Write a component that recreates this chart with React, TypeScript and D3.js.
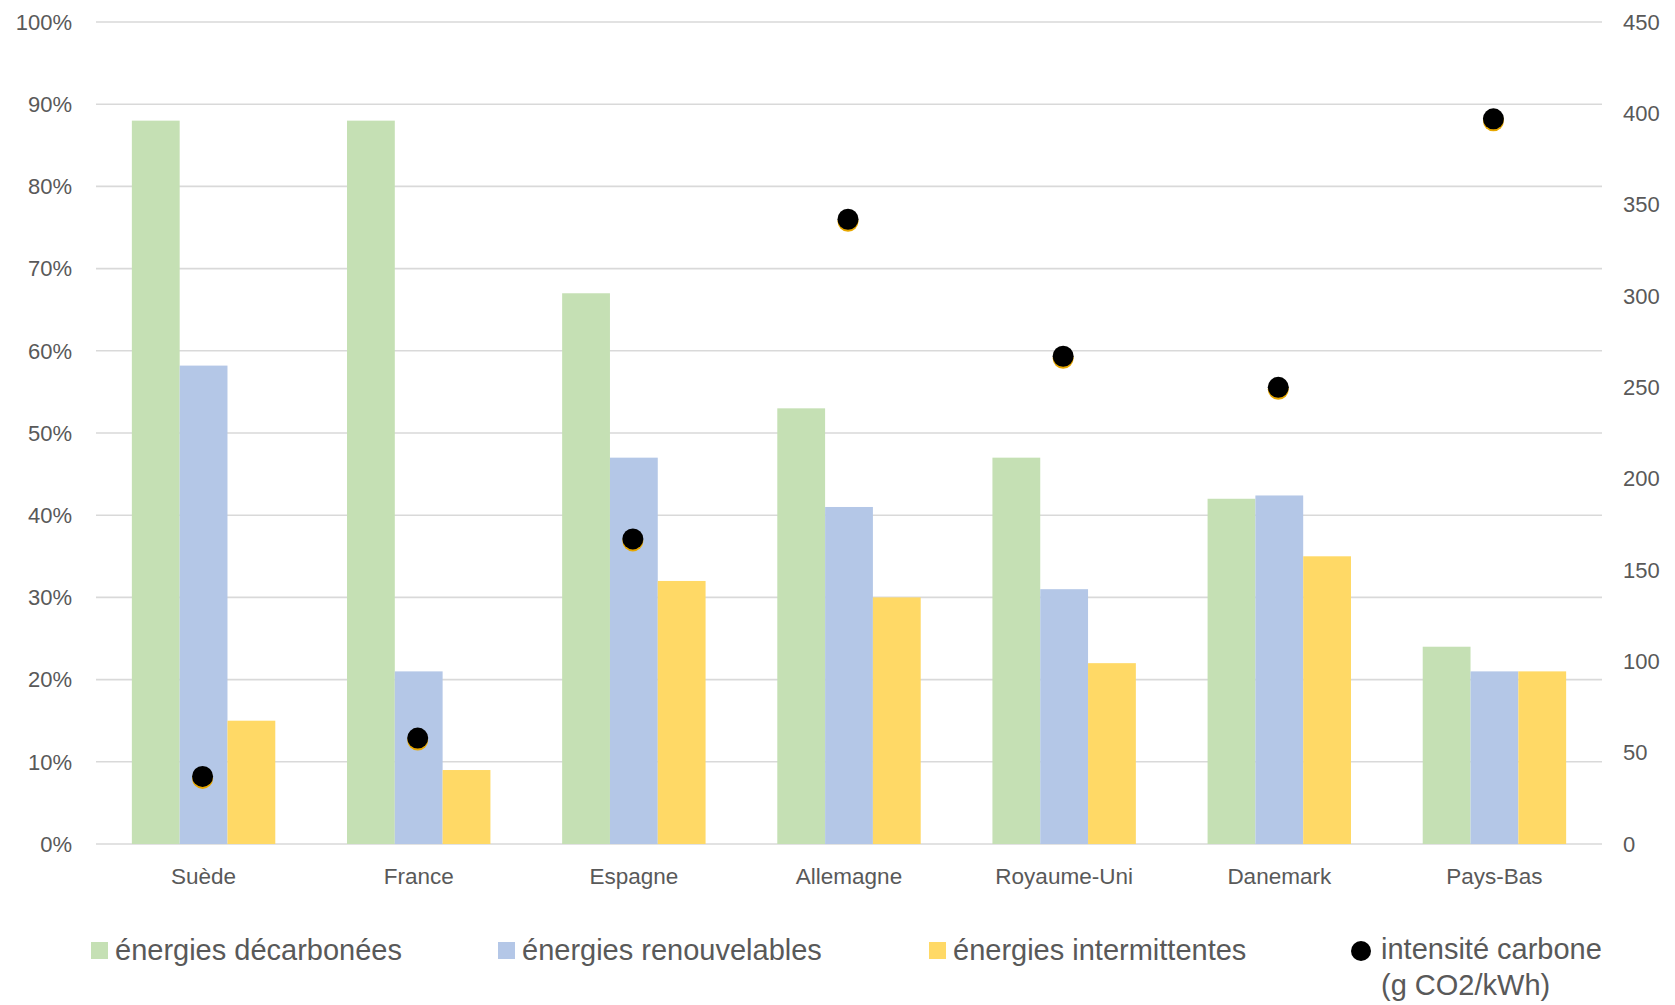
import React from "react";
import * as d3 from "d3";

const categories = ["Suède", "France", "Espagne", "Allemagne", "Royaume-Uni", "Danemark", "Pays-Bas"];
const seriesNames = ["énergies décarbonées", "énergies renouvelables", "énergies intermittentes"];
const decarbonees = [88, 88, 67, 53, 47, 42, 24];
const renouvelables = [58.2, 21, 47, 41, 31, 42.4, 21];
const intermittentes = [15, 9, 32, 30, 22, 35, 21];
const intensite = [37, 58, 167, 342, 267, 250, 397];
const leftTicks = [0, 10, 20, 30, 40, 50, 60, 70, 80, 90, 100];
const rightTicks = [0, 50, 100, 150, 200, 250, 300, 350, 400, 450];
const colors = ["#C5E0B4", "#B4C7E7", "#FFD966"];
const dotLabel = ["intensité carbone", "(g CO2/kWh)"];

const W = 1675;
const H = 1005;
const plotLeft = 96;
const plotRight = 1602;
const plotTop = 22;
const plotBottom = 844;
const textColor = "#595959";
const font = "'Liberation Sans', Arial, sans-serif";

export default function App() {
  const x = d3.scaleBand<string>().domain(categories).range([plotLeft, plotRight]).paddingInner(0).paddingOuter(0);
  const xs = d3.scaleBand<number>().domain([0, 1, 2]).range([0, x.bandwidth()]).paddingInner(0).paddingOuter(0.75);
  const yL = d3.scaleLinear().domain([0, 100]).range([plotBottom, plotTop]);
  const yR = d3.scaleLinear().domain([0, 450]).range([plotBottom, plotTop]);
  const series = [decarbonees, renouvelables, intermittentes];

  const legendItems = [
    { x: 91, label: seriesNames[0], color: colors[0] },
    { x: 498, label: seriesNames[1], color: colors[1] },
    { x: 929, label: seriesNames[2], color: colors[2] },
  ];

  return (
    <div style={{ position: "absolute", left: 0, top: 0 }}>
      <svg width={W} height={H} style={{ display: "block", background: "#fff" }} fontFamily={font}>
        <rect x={0} y={0} width={W} height={H} fill="#fff" />
        {leftTicks.map((t) => (
          <line key={"g" + t} x1={plotLeft} x2={plotRight} y1={yL(t)} y2={yL(t)} stroke="#D9D9D9" strokeWidth={1.6} />
        ))}
        {leftTicks.map((t) => (
          <text key={"l" + t} x={72} y={yL(t)} dy="0.35em" textAnchor="end" fontSize={22} fill={textColor}>
            {t + "%"}
          </text>
        ))}
        {rightTicks.map((t) => (
          <text key={"r" + t} x={1623} y={yR(t)} dy="0.35em" textAnchor="start" fontSize={22} fill={textColor}>
            {t}
          </text>
        ))}
        {series.map((vals, si) =>
          vals.map((v, ci) => (
            <rect
              key={`b${si}-${ci}`}
              x={(x(categories[ci]) as number) + (xs(si) as number)}
              y={yL(v)}
              width={xs.bandwidth()}
              height={plotBottom - yL(v)}
              fill={colors[si]}
            />
          ))
        )}
        {intensite.map((v, ci) => {
          const cx = (x(categories[ci]) as number) + x.bandwidth() / 2 - 1;
          return (
            <g key={"d" + ci}>
              <circle cx={cx} cy={yR(v) + 2} r={10.5} fill="#E8A800" />
              <circle cx={cx} cy={yR(v)} r={10.5} fill="#000" />
            </g>
          );
        })}
        {categories.map((c) => (
          <text key={"c" + c} x={(x(c) as number) + x.bandwidth() / 2} y={884} textAnchor="middle" fontSize={22.5} fill={textColor}>
            {c}
          </text>
        ))}
        {legendItems.map((it) => (
          <g key={it.label}>
            <rect x={it.x} y={942} width={17} height={17} fill={it.color} />
            <text x={it.x + 24} y={960} fontSize={29} fill={textColor}>
              {it.label}
            </text>
          </g>
        ))}
        <circle cx={1361} cy={951} r={10} fill="#000" />
        <text x={1381} y={959} fontSize={29} fill={textColor}>
          {dotLabel[0]}
        </text>
        <text x={1381} y={995} fontSize={29} fill={textColor}>
          {dotLabel[1]}
        </text>
      </svg>
    </div>
  );
}
